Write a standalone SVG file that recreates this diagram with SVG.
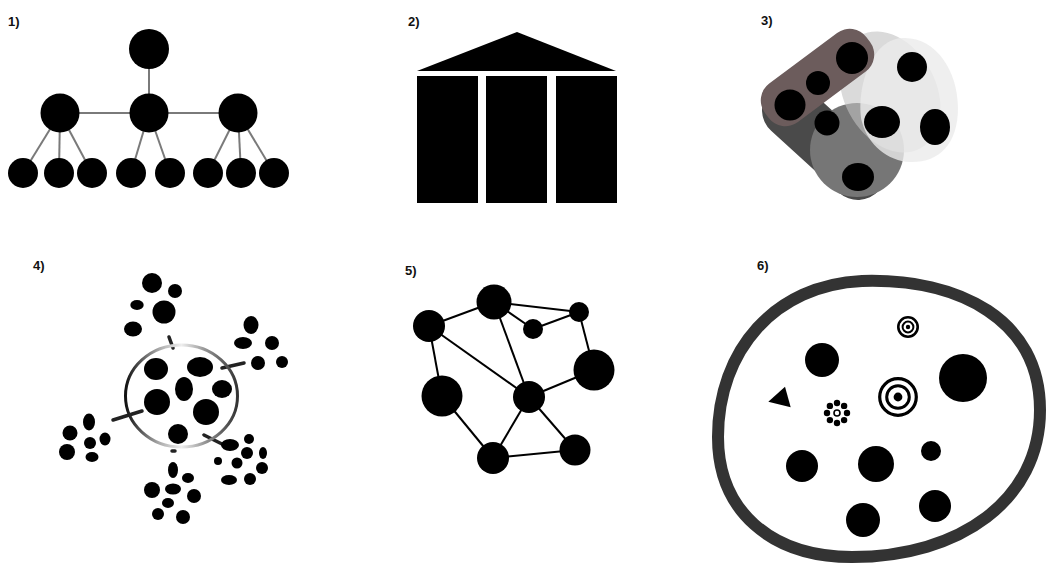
<svg xmlns="http://www.w3.org/2000/svg" width="1046" height="564" viewBox="0 0 1046 564">
<defs>
<linearGradient id="ringGrad" x1="0" y1="0" x2="1" y2="0">
<stop offset="0" stop-color="#111"/>
<stop offset="0.3" stop-color="#aaa"/>
<stop offset="0.5" stop-color="#eee"/>
<stop offset="0.7" stop-color="#999"/>
<stop offset="1" stop-color="#333"/>
</linearGradient>
</defs>
<style>
.lbl{font-family:"Liberation Sans",Arial,sans-serif;font-size:13px;font-weight:bold;fill:#111}
.n{fill:#000}
.tree{stroke:#7a7a7a;stroke-width:2;fill:none}
.net{stroke:#000;stroke-width:2;fill:none}
.bar{stroke:#222;stroke-width:3.5;stroke-linecap:round;fill:none}
</style>
<rect width="1046" height="564" fill="#fff"/>

<g id="labels">
<text class="lbl" x="8" y="26">1)</text>
<text class="lbl" x="408" y="26">2)</text>
<text class="lbl" x="761" y="25">3)</text>
<text class="lbl" x="33" y="270">4)</text>
<text class="lbl" x="405" y="275">5)</text>
<text class="lbl" x="757" y="270">6)</text>
</g>

<g id="connectors">
<g id="tree-edges" class="tree">
<line x1="149" y1="49" x2="149" y2="113"/>
<line x1="60" y1="113" x2="238" y2="113"/>
<line x1="60" y1="113" x2="23" y2="173"/>
<line x1="60" y1="113" x2="59" y2="173"/>
<line x1="60" y1="113" x2="92" y2="173"/>
<line x1="149" y1="113" x2="131" y2="173"/>
<line x1="149" y1="113" x2="170" y2="173"/>
<line x1="238" y1="113" x2="208" y2="173"/>
<line x1="238" y1="113" x2="241" y2="173"/>
<line x1="238" y1="113" x2="274" y2="173"/>
</g>
<g id="net-edges" class="net">
<line x1="429" y1="326" x2="494" y2="302"/>
<line x1="429" y1="326" x2="442" y2="396"/>
<line x1="429" y1="326" x2="529" y2="397"/>
<line x1="494" y1="302" x2="533" y2="329"/>
<line x1="494" y1="302" x2="579" y2="312"/>
<line x1="494" y1="302" x2="529" y2="397"/>
<line x1="533" y1="329" x2="579" y2="312"/>
<line x1="579" y1="312" x2="594" y2="370"/>
<line x1="594" y1="370" x2="529" y2="397"/>
<line x1="442" y1="396" x2="493" y2="458"/>
<line x1="529" y1="397" x2="493" y2="458"/>
<line x1="529" y1="397" x2="575" y2="450"/>
<line x1="493" y1="458" x2="575" y2="450"/>
</g>
<g id="cluster-links" class="bar">
<line x1="169" y1="337" x2="173" y2="348"/>
<line x1="222" y1="368" x2="244" y2="363"/>
<line x1="113" y1="420" x2="142" y2="411"/>
<line x1="204" y1="435" x2="222" y2="444"/>
<line x1="172" y1="451" x2="175" y2="451"/>
</g>
</g>

<g id="panel1-tree">
<circle id="t-root" class="n" cx="149" cy="49" r="20"/>
<circle id="t-l" class="n" cx="60" cy="113" r="19.5"/>
<circle id="t-m" class="n" cx="149" cy="113" r="19.5"/>
<circle id="t-r" class="n" cx="238" cy="113" r="19.5"/>
<circle class="n" cx="23" cy="173" r="15"/>
<circle class="n" cx="59" cy="173" r="15"/>
<circle class="n" cx="92" cy="173" r="15"/>
<circle class="n" cx="131" cy="173" r="15"/>
<circle class="n" cx="170" cy="173" r="15"/>
<circle class="n" cx="208" cy="173" r="15"/>
<circle class="n" cx="241" cy="173" r="15"/>
<circle class="n" cx="274" cy="173" r="15"/>
</g>

<g id="panel2-temple">
<polygon class="n" points="517,32 417,71 616,71"/>
<rect class="n" x="417" y="76" width="61" height="127"/>
<rect class="n" x="486" y="76" width="61" height="127"/>
<rect class="n" x="556" y="76" width="61" height="127"/>
</g>

<g id="panel3-overlap">
<line x1="790" y1="110" x2="858" y2="172" stroke="#4a4a4a" stroke-width="56" stroke-linecap="round"/>
<circle cx="857" cy="150" r="47" fill="#767676"/>
<ellipse cx="890" cy="92" rx="46" ry="64" transform="rotate(-28 890 92)" fill="#c2c2c2" opacity="0.6"/>
<path d="M902,38 C935,36 958,70 958,108 C958,145 938,163 910,162 C888,161 868,145 862,122 C856,95 868,40 902,38 Z" fill="#ebebeb" opacity="0.8"/>
<rect x="-63.3" y="-24" width="126.6" height="48" rx="21" fill="#6c5c5c" transform="translate(817.5,77.5) rotate(-36.7)"/>
<ellipse class="n" cx="852" cy="58" rx="16" ry="16"/>
<ellipse class="n" cx="818" cy="83" rx="12" ry="12"/>
<ellipse class="n" cx="790" cy="105" rx="15.5" ry="15.5"/>
<ellipse class="n" cx="827" cy="123" rx="12.5" ry="12.5"/>
<ellipse class="n" cx="858" cy="177" rx="16" ry="14"/>
<ellipse class="n" cx="912" cy="67" rx="15" ry="15"/>
<ellipse class="n" cx="882" cy="122" rx="18" ry="16"/>
<ellipse class="n" cx="935" cy="127" rx="15" ry="18"/>
</g>

<g id="panel4-clusters">
<g id="hub">
<ellipse cx="181.5" cy="396" rx="56" ry="51" fill="none" stroke="url(#ringGrad)" stroke-width="3"/>
<ellipse class="n" cx="156" cy="369" rx="12" ry="11"/>
<ellipse class="n" cx="200" cy="367" rx="13" ry="10"/>
<ellipse class="n" cx="184" cy="389" rx="9" ry="12"/>
<ellipse class="n" cx="222" cy="389" rx="10" ry="9"/>
<ellipse class="n" cx="157" cy="402" rx="13" ry="13"/>
<ellipse class="n" cx="206" cy="412" rx="13" ry="13"/>
<ellipse class="n" cx="178" cy="434" rx="10" ry="10"/>
</g>
<g id="c-top">
<ellipse class="n" cx="152" cy="283" rx="10" ry="10"/>
<ellipse class="n" cx="175" cy="291" rx="7" ry="7"/>
<ellipse class="n" cx="137" cy="305" rx="6.7" ry="5"/>
<ellipse class="n" cx="164" cy="312" rx="11.5" ry="11.5"/>
<ellipse class="n" cx="133" cy="329" rx="9" ry="7.5"/>
</g>
<g id="c-right">
<ellipse class="n" cx="251" cy="325" rx="7.5" ry="9"/>
<ellipse class="n" cx="243" cy="343" rx="9" ry="6"/>
<ellipse class="n" cx="272" cy="343" rx="7" ry="7"/>
<ellipse class="n" cx="258" cy="363" rx="7" ry="7"/>
<ellipse class="n" cx="282" cy="362" rx="6" ry="6"/>
</g>
<g id="c-left">
<ellipse class="n" cx="89" cy="422" rx="6" ry="8.5"/>
<ellipse class="n" cx="70" cy="433" rx="7.5" ry="7.5"/>
<ellipse class="n" cx="105" cy="439" rx="5.5" ry="6.5"/>
<ellipse class="n" cx="90" cy="443" rx="6" ry="6"/>
<ellipse class="n" cx="67" cy="452" rx="8" ry="8"/>
<ellipse class="n" cx="92" cy="457" rx="6.5" ry="5"/>
</g>
<g id="c-bottomright">
<ellipse class="n" cx="230" cy="445" rx="9" ry="6"/>
<ellipse class="n" cx="249" cy="439" rx="5" ry="5"/>
<ellipse class="n" cx="247" cy="453" rx="6" ry="6"/>
<ellipse class="n" cx="263" cy="453" rx="4" ry="6"/>
<ellipse class="n" cx="218" cy="461" rx="4" ry="4"/>
<ellipse class="n" cx="237" cy="463" rx="5.5" ry="5.5"/>
<ellipse class="n" cx="262" cy="468" rx="6" ry="6"/>
<ellipse class="n" cx="229" cy="480" rx="8" ry="5"/>
<ellipse class="n" cx="250" cy="479" rx="6" ry="6"/>
</g>
<g id="c-bottom">
<ellipse class="n" cx="173" cy="470" rx="5" ry="8"/>
<ellipse class="n" cx="188" cy="478" rx="6" ry="5"/>
<ellipse class="n" cx="152" cy="490" rx="8" ry="8"/>
<ellipse class="n" cx="173" cy="489" rx="8" ry="5.5"/>
<ellipse class="n" cx="194" cy="496" rx="7" ry="7"/>
<ellipse class="n" cx="168" cy="503" rx="6" ry="5"/>
<ellipse class="n" cx="158" cy="514" rx="6" ry="6"/>
<ellipse class="n" cx="183" cy="517" rx="7" ry="7"/>
</g>
</g>

<g id="panel5-network">
<circle id="nA" class="n" cx="429" cy="326" r="16"/>
<circle id="nB" class="n" cx="494" cy="302" r="17.5"/>
<circle id="nC" class="n" cx="533" cy="329" r="10"/>
<circle id="nD" class="n" cx="579" cy="312" r="10"/>
<circle id="nE" class="n" cx="594" cy="370" r="20.5"/>
<circle id="nF" class="n" cx="442" cy="396" r="20.5"/>
<circle id="nG" class="n" cx="529" cy="397" r="16"/>
<circle id="nH" class="n" cx="493" cy="458" r="16"/>
<circle id="nI" class="n" cx="575" cy="450" r="15.5"/>
</g>

<g id="panel6-container">
<path d="M718,437 C718,350 775,285 862,281 C960,278 1040,320 1040,410 C1040,500 960,557 852,557 C770,557 718,510 718,437 Z" fill="none" stroke="#333" stroke-width="12"/>
<g id="target-small" fill="none" stroke="#000">
<circle cx="908" cy="327" r="9.7" stroke-width="2.6"/>
<circle cx="908" cy="327" r="5.4" stroke-width="2"/>
<circle cx="908" cy="327" r="2.2" fill="#000" stroke="none"/>
</g>
<g id="target-large" fill="none" stroke="#000">
<circle cx="898" cy="397" r="18.3" stroke-width="3.2"/>
<circle cx="898" cy="397" r="11.3" stroke-width="3"/>
<circle cx="898" cy="397" r="4.4" fill="#000" stroke="none"/>
</g>
<g id="flower" fill="#000">
<circle cx="837" cy="403" r="3.2"/>
<circle cx="844.1" cy="405.9" r="3.2"/>
<circle cx="847" cy="413" r="3.2"/>
<circle cx="844.1" cy="420.1" r="3.2"/>
<circle cx="837" cy="423" r="3.2"/>
<circle cx="829.9" cy="420.1" r="3.2"/>
<circle cx="827" cy="413" r="3.2"/>
<circle cx="829.9" cy="405.9" r="3.2"/>
<circle cx="837" cy="413" r="3" fill="#fff" stroke="#000" stroke-width="1.6"/>
</g>
<polygon id="triangle" class="n" points="768.3,401.7 785,386.7 790.7,407.3"/>
<circle class="n" cx="822" cy="360" r="17"/>
<circle class="n" cx="963" cy="378" r="24"/>
<circle class="n" cx="802" cy="466" r="16"/>
<circle class="n" cx="876" cy="464" r="18"/>
<circle class="n" cx="931" cy="451" r="10"/>
<circle class="n" cx="935" cy="506" r="16"/>
<circle class="n" cx="863" cy="520" r="17"/>
</g>
</svg>
